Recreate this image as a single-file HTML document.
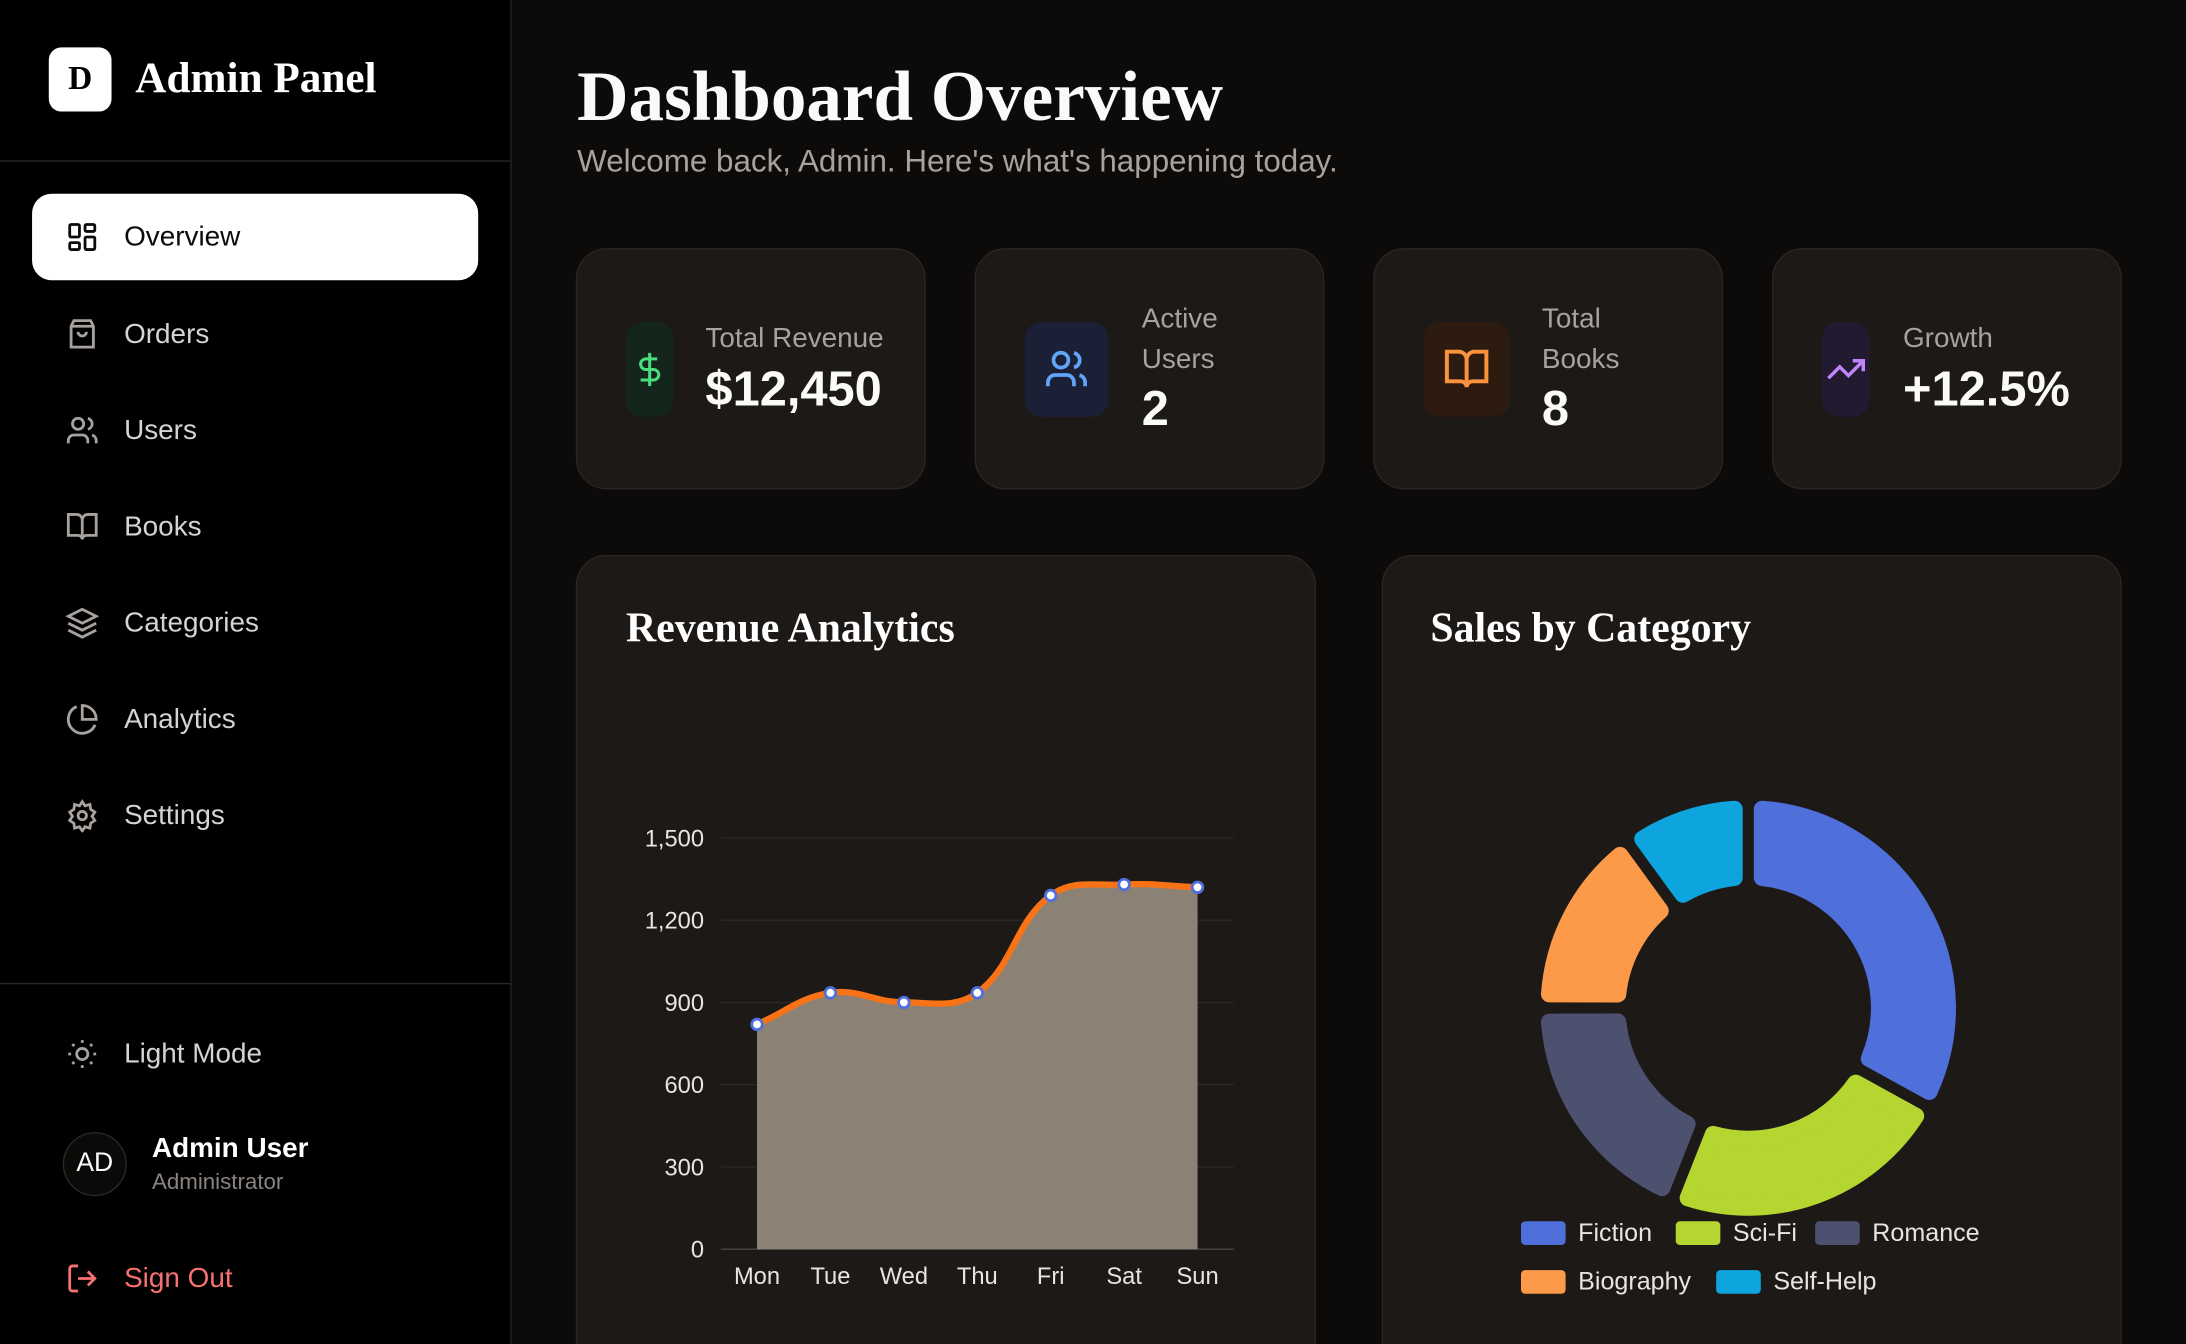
<!DOCTYPE html>
<html><head><meta charset="utf-8"><style>
html,body{margin:0;padding:0;background:#0c0b0a;width:2186px;height:1344px;overflow:hidden}
#wrap{position:absolute;left:0;top:0;width:1568px;height:964px;overflow:hidden;transform:scale(1.39413,1.39419);transform-origin:0 0;font-family:"Liberation Sans",sans-serif;color:#fff;background:#0c0b0a}
.abs{position:absolute}
.serif{font-family:"Liberation Serif",serif;font-weight:bold}
.nav{position:absolute;left:23px;width:320px;height:62px;display:flex;align-items:center;font-size:20px;color:#d6d3d1}
.nav svg{position:absolute;left:24px;width:24px;height:24px}
.nav span{position:absolute;left:66px}
.card{position:absolute;top:178px;width:249px;height:171px;background:#1c1917;border:1px solid #292524;border-radius:22px}
.ibox{position:absolute;left:35px;top:52px;width:34px;height:68px;border-radius:12px;display:flex;align-items:center;justify-content:center}
.lbl{position:absolute;left:92px;font-size:20px;color:#a8a29e;line-height:29px}
.val{position:absolute;left:92px;font-size:35px;font-weight:bold;color:#fafaf9}
.panel{position:absolute;top:398px;width:529px;height:600px;background:#1c1917;border:1px solid #292524;border-radius:22px}
</style></head><body>
<div id="wrap">
<div class="abs" style="left:0;top:0;width:366px;height:964px;background:#000;border-right:1px solid #262322">
  <div class="abs serif" style="left:35px;top:34px;width:45px;height:46px;background:#fff;border-radius:9px;color:#000;font-size:24px;text-align:center;line-height:46px">D</div>
  <div class="abs serif" style="left:97px;top:38px;font-size:31px">Admin Panel</div>
  <div class="abs" style="left:0;top:115px;width:366px;height:1px;background:#2a2725"></div>
  <div class="nav" style="top:139px;background:#fff;border-radius:14px;color:#0c0a09"><svg viewBox="0 0 24 24" fill="none" stroke="#0c0a09" stroke-width="2"><rect x="3" y="3" width="7" height="9" rx="1"/><rect x="14" y="3" width="7" height="5" rx="1"/><rect x="14" y="12" width="7" height="9" rx="1"/><rect x="3" y="16" width="7" height="5" rx="1"/></svg><span>Overview</span></div>
  <div class="nav" style="top:209px"><svg viewBox="0 0 24 24" fill="none" stroke="#a8a29e" stroke-width="2"><path d="M6 2h12l2 4v15H4V6z"/><path d="M4 6h16M9 10a3 3 0 0 0 6 0"/></svg><span>Orders</span></div>
  <div class="nav" style="top:278px"><svg viewBox="0 0 24 24" fill="none" stroke="#a8a29e" stroke-width="2"><circle cx="9" cy="7" r="4"/><path d="M2 21v-2a4 4 0 0 1 4-4h6a4 4 0 0 1 4 4v2M16 3.1a4 4 0 0 1 0 7.8M22 21v-2a4 4 0 0 0-3-3.9"/></svg><span>Users</span></div>
  <div class="nav" style="top:347px"><svg viewBox="0 0 24 24" fill="none" stroke="#a8a29e" stroke-width="2"><path d="M2 3h6a4 4 0 0 1 4 4v14a3 3 0 0 0-3-3H2zM22 3h-6a4 4 0 0 0-4 4v14a3 3 0 0 1 3-3h7z"/></svg><span>Books</span></div>
  <div class="nav" style="top:416px"><svg viewBox="0 0 24 24" fill="none" stroke="#a8a29e" stroke-width="2"><path d="M12 2 2 7l10 5 10-5zM2 12l10 5 10-5M2 17l10 5 10-5"/></svg><span>Categories</span></div>
  <div class="nav" style="top:485px"><svg viewBox="0 0 24 24" fill="none" stroke="#a8a29e" stroke-width="2"><path d="M21.2 15.9A10 10 0 1 1 8 2.8"/><path d="M22 12A10 10 0 0 0 12 2v10z"/></svg><span>Analytics</span></div>
  <div class="nav" style="top:554px"><svg viewBox="0 0 24 24" fill="none" stroke="#a8a29e" stroke-width="2"><circle cx="12" cy="12" r="3"/><path d="M12 2l2 3 3.5-1 .5 3.5 3 2-2 3 2 3-3 2-.5 3.5-3.5-1-2 3-2-3-3.5 1-.5-3.5-3-2 2-3-2-3 3-2 .5-3.5 3.5 1z"/></svg><span>Settings</span></div>
  <div class="abs" style="left:0;top:705px;width:366px;height:1px;background:#2a2725"></div>
  <div class="nav" style="top:725px"><svg viewBox="0 0 24 24" fill="none" stroke="#a8a29e" stroke-width="2"><circle cx="12" cy="12" r="4"/><path d="M12 2v2M12 20v2M4.9 4.9l1.4 1.4M17.7 17.7l1.4 1.4M2 12h2M20 12h2M4.9 19.1l1.4-1.4M17.7 6.3l1.4-1.4"/></svg><span>Light Mode</span></div>
  <div class="abs" style="left:45px;top:812px;width:44px;height:44px;border-radius:50%;border:1px solid #2a2725;background:#0c0a09;font-size:19px;text-align:center;line-height:44px;color:#fafaf9">AD</div>
  <div class="abs" style="left:109px;top:813px;font-size:20px;font-weight:bold">Admin User</div>
  <div class="abs" style="left:109px;top:840px;font-size:16px;color:#8a8480">Administrator</div>
  <div class="nav" style="top:886px;color:#f87171"><svg viewBox="0 0 24 24" fill="none" stroke="#f87171" stroke-width="2"><path d="M9 21H5a2 2 0 0 1-2-2V5a2 2 0 0 1 2-2h4M16 17l5-5-5-5M21 12H9"/></svg><span>Sign Out</span></div>
</div>

<div class="abs serif" style="left:414px;top:41px;font-size:51px;color:#fafaf9">Dashboard Overview</div>
<div class="abs" style="left:414px;top:103px;font-size:22.5px;color:#a8a29e">Welcome back, Admin. Here's what's happening today.</div>

<div class="card" style="left:413px">
  <div class="ibox" style="background:#14261b"><svg width="26" height="32" viewBox="0 0 24 24" fill="none" stroke="#4ade80" stroke-width="2"><path d="M12 1v22M17 5H9.5a3.5 3.5 0 0 0 0 7h5a3.5 3.5 0 0 1 0 7H6"/></svg></div>
  <div class="lbl" style="top:50px">Total Revenue</div><div class="val" style="top:81px">$12,450</div>
</div>
<div class="card" style="left:699px">
  <div class="ibox" style="background:#1c2036;width:60px"><svg width="32" height="32" viewBox="0 0 24 24" fill="none" stroke="#60a5fa" stroke-width="2"><circle cx="9" cy="7" r="4"/><path d="M2 21v-2a4 4 0 0 1 4-4h6a4 4 0 0 1 4 4v2M16 3.1a4 4 0 0 1 0 7.8M22 21v-2a4 4 0 0 0-3-3.9"/></svg></div>
  <div class="lbl" style="top:36px;left:119px">Active<br>Users</div><div class="val" style="top:95px;left:119px">2</div>
</div>
<div class="card" style="left:985px">
  <div class="ibox" style="background:#2e1b10;width:62px;height:68px"><svg width="34" height="34" viewBox="0 0 24 24" fill="none" stroke="#fb923c" stroke-width="2"><path d="M2 3h6a4 4 0 0 1 4 4v14a3 3 0 0 0-3-3H2zM22 3h-6a4 4 0 0 0-4 4v14a3 3 0 0 1 3-3h7z"/></svg></div>
  <div class="lbl" style="top:36px;left:120px">Total<br>Books</div><div class="val" style="top:95px;left:120px">8</div>
</div>
<div class="card" style="left:1271px">
  <div class="ibox" style="background:#221a30"><svg width="34" height="30" viewBox="0 0 24 24" fill="none" stroke="#c084fc" stroke-width="2"><path d="M22 7l-8.5 8.5-5-5L2 17M16 7h6v6"/></svg></div>
  <div class="lbl" style="top:50px;left:93px">Growth</div><div class="val" style="top:81px;left:93px">+12.5%</div>
</div>

<div class="panel" style="left:413px"></div>
<div class="abs serif" style="left:449px;top:434px;font-size:30px">Revenue Analytics</div>
<div class="panel" style="left:991px"></div>
<div class="abs serif" style="left:1026px;top:434px;font-size:30px">Sales by Category</div>

<svg id="chart" class="abs" style="left:0;top:0" width="1568" height="964"></svg>
</div>
<script>
const days = ['Mon','Tue','Wed','Thu','Fri','Sat','Sun'];
const revenue = [820, 935, 900, 935, 1290, 1330, 1320];
const yTicks = [0, 300, 600, 900, 1200, 1500];
const yTickLabels = ['0','300','600','900','1,200','1,500'];
const categories = ['Fiction','Sci-Fi','Romance','Biography','Self-Help'];
const sales = [33, 23, 19, 15, 10];
const catColors = ['#4f6fdb','#b5d531','#4d5170','#fd9a4a','#0ea5de'];

const NS='http://www.w3.org/2000/svg';
const svg=document.getElementById('chart');
function mk(tag,attrs,parent){const e=document.createElementNS(NS,tag);for(const k in attrs)e.setAttribute(k,attrs[k]);(parent||svg).appendChild(e);return e;}
const X0=543,X1=859,Y0=896,Y1=601,GL=517,GR=885;
const xs=i=>X0+(X1-X0)*i/(days.length-1);
const ys=v=>Y0-(Y0-Y1)*v/1500;
yTicks.forEach((t,i)=>{
  const g=mk('line',{x1:GL,x2:GR,y1:ys(t),y2:ys(t),stroke:t===0?'#4a4644':'#2c2927','stroke-width':1});
  
  
  const tx=mk('text',{x:505,y:ys(t)+6,'text-anchor':'end','font-size':17,fill:'#e7e5e4','font-family':'Liberation Sans, sans-serif'});
  tx.textContent=yTickLabels[i];
  
  
});
days.forEach((d,i)=>{
  const tx=mk('text',{x:xs(i),y:921,'text-anchor':'middle','font-size':17,fill:'#e7e5e4','font-family':'Liberation Sans, sans-serif'});
  tx.textContent=d;
  
  
});
const pts=revenue.map((v,i)=>[xs(i),ys(v)]);
const T=0.4;
const cps=pts.map((p,i)=>{
  const pr=pts[Math.max(i-1,0)],nx=pts[Math.min(i+1,pts.length-1)];
  const d01=Math.hypot(p[0]-pr[0],p[1]-pr[1]),d12=Math.hypot(nx[0]-p[0],nx[1]-p[1]);
  const s=d01+d12||1;const fa=T*d01/s,fb=T*d12/s;
  return {p:[p[0]-fa*(nx[0]-pr[0]),p[1]-fa*(nx[1]-pr[1])],n:[p[0]+fb*(nx[0]-pr[0]),p[1]+fb*(nx[1]-pr[1])]};
});
let d='M'+pts[0][0]+' '+pts[0][1];
for(let i=1;i<pts.length;i++){d+=' C'+cps[i-1].n.join(' ')+' '+cps[i].p.join(' ')+' '+pts[i].join(' ');}
const area=mk('path',{d:d+' L'+pts[pts.length-1][0]+' '+Y0+' L'+pts[0][0]+' '+Y0+' Z',fill:'#8b8174'});


const line=mk('path',{d:d,fill:'none',stroke:'#f97316','stroke-width':4.5});


pts.forEach(p=>{
  const c=mk('circle',{cx:p[0],cy:p[1],r:3.8,fill:'#fff',stroke:'#4f6fdf','stroke-width':2});
  
  
});
const CX=1254,CY=723,RO=149,RI=88,SW=12,GAP=4;
const total=sales.reduce((a,b)=>a+b,0);
let a0=0;
function pt(r,a){return [CX+r*Math.sin(a),CY-r*Math.cos(a)];}
sales.forEach((v,i)=>{
  const a1=a0+v/total*Math.PI*2;
  const ro=RO-SW/2,ri=RI+SW/2;
  const po=(GAP+SW/2)/ro,pi=(GAP+SW/2)/ri;
  const s1=pt(ro,a0+po),e1=pt(ro,a1-po),s2=pt(ri,a1-pi),e2=pt(ri,a0+pi);
  const large=(a1-a0-2*po)>Math.PI?1:0;
  const pd=`M${s1} A${ro} ${ro} 0 ${large} 1 ${e1} L${s2} A${ri} ${ri} 0 ${large} 0 ${e2} Z`;
  const sl=mk('path',{d:pd,fill:catColors[i],stroke:catColors[i],'stroke-width':SW,'stroke-linejoin':'round'});
  
  
  a0=a1;
});
const legPos=[[1091,876],[1202,876],[1302,876],[1091,911],[1231,911]];
categories.forEach((c,i)=>{
  const r=mk('rect',{x:legPos[i][0],y:legPos[i][1],width:32,height:17,rx:3,fill:catColors[i]});
  
  
  const t=mk('text',{x:legPos[i][0]+41,y:legPos[i][1]+14,'font-size':18,fill:'#e7e5e4','font-family':'Liberation Sans, sans-serif'});
  t.textContent=c;
  
  
});
</script>
</body></html>
